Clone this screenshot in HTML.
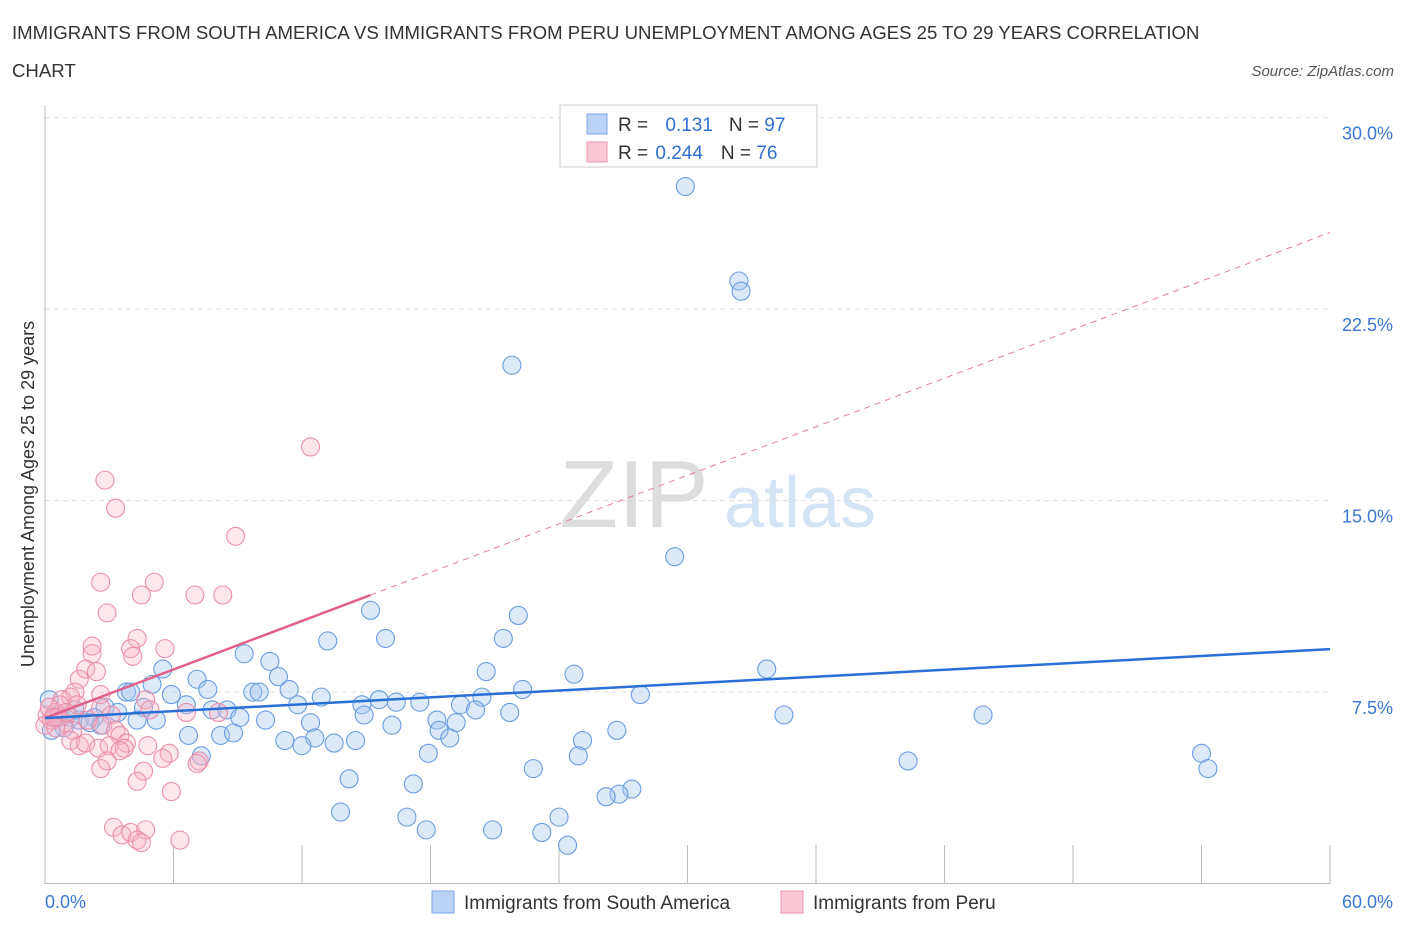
<!DOCTYPE html>
<html><head><meta charset="utf-8"><style>
body{margin:0;background:#fff;font-family:"Liberation Sans",sans-serif;}
svg text{font-family:"Liberation Sans",sans-serif;}
</style></head><body>
<svg id="c" width="1406" height="930">
<text x="12" y="39" font-size="18.6" fill="#333">IMMIGRANTS FROM SOUTH AMERICA VS IMMIGRANTS FROM PERU UNEMPLOYMENT AMONG AGES 25 TO 29 YEARS CORRELATION</text>
<text x="12" y="77" font-size="18.6" fill="#333">CHART</text>
<text x="1394" y="76" font-size="15" fill="#555" font-style="italic" text-anchor="end">Source: ZipAtlas.com</text>
<text x="634" y="527" font-size="96" fill="#ddd" font-family="Liberation Serif" text-anchor="middle">ZIP</text>
<text x="800" y="527" font-size="72" fill="#d4e3f5" text-anchor="middle">atlas</text>
<text transform="translate(34,494) rotate(-90)" font-size="18" fill="#333" text-anchor="middle">Unemployment Among Ages 25 to 29 years</text>
<g id="grid"></g>
<g id="pts"></g>
<g id="trend"></g>
<rect x="560" y="105" width="257" height="62" fill="#fff" stroke="#ccc"/>
<rect x="587" y="114" width="20" height="20" fill="#b9d3f5" stroke="#7aa6e3"/>
<rect x="587" y="142" width="20" height="20" fill="#fbc9d6" stroke="#ec93ad"/>
<text x="618" y="131" font-size="19" fill="#333">R = <tspan fill="#2f6fd1" dx="12">0.131</tspan><tspan fill="#333" dx="16">N = </tspan><tspan fill="#2f6fd1">97</tspan></text>
<text x="618" y="159" font-size="19" fill="#333">R = <tspan fill="#2f6fd1" dx="2">0.244</tspan><tspan fill="#333" dx="18">N = </tspan><tspan fill="#2f6fd1">76</tspan></text>
<rect x="432" y="891" width="22" height="22" fill="#b9d3f5" stroke="#7aa6e3"/>
<text x="464" y="909" font-size="19" fill="#333">Immigrants from South America</text>
<rect x="781" y="891" width="22" height="22" fill="#fbc9d6" stroke="#ec93ad"/>
<text x="813" y="909" font-size="19" fill="#333">Immigrants from Peru</text>
</svg>
<script>
const yTicks=[30,22.5,15,7.5];
const yTickLabels=["30.0%","22.5%","15.0%","7.5%"];
const xTickLabels=["0.0%","60.0%"];
const blueX=[29.9,32.4,32.5,21.8,29.4,15.2,22.1,15.9,21.4,13.2,9.3,10.5,5.5,33.7,20.6,24.7,7.1,10.9,5.0,7.6,11.4,22.3,3.8,4.0,27.8,5.9,9.7,10.0,20.4,12.9,15.6,16.4,17.5,14.8,11.8,6.6,19.4,20.1,21.7,7.8,8.5,4.6,2.8,14.9,43.8,34.5,9.1,10.3,5.2,4.3,12.4,18.3,16.2,19.2,2.3,3.4,26.7,18.4,18.9,6.7,8.2,8.8,12.6,11.2,14.5,13.5,12.0,25.1,17.9,24.9,7.3,54.0,40.3,22.8,54.3,14.2,17.2,27.4,26.8,26.2,13.8,16.9,24.0,17.8,20.9,23.2,24.4,0.2,0.5,0.7,1.2,1.6,2.1,2.6,0.9,1.4,0.3];
const blueY=[27.3,23.6,23.2,20.3,12.8,10.7,10.5,9.6,9.6,9.5,9.0,8.7,8.4,8.4,8.3,8.2,8.0,8.1,7.8,7.6,7.6,7.6,7.5,7.5,7.4,7.4,7.5,7.5,7.3,7.3,7.2,7.1,7.1,7.0,7.0,7.0,7.0,6.8,6.7,6.8,6.8,6.9,6.9,6.6,6.6,6.6,6.5,6.4,6.4,6.4,6.3,6.4,6.2,6.3,6.5,6.7,6.0,6.0,5.7,5.8,5.8,5.9,5.7,5.6,5.6,5.5,5.4,5.6,5.1,5.0,5.0,5.1,4.8,4.5,4.5,4.1,3.9,3.7,3.5,3.4,2.8,2.6,2.6,2.1,2.1,2.0,1.5,7.2,6.5,6.6,6.5,6.4,6.3,6.2,6.1,6.8,6.0];
const pinkX=[12.4,2.8,3.3,8.9,2.6,5.1,4.5,7.0,8.3,2.9,4.3,2.2,4.0,5.6,2.2,4.1,1.9,2.4,1.6,1.4,2.6,1.2,0.8,4.7,1.5,2.6,6.6,4.9,3.1,2.0,0.9,2.7,1.3,3.3,3.5,1.2,1.6,1.9,2.5,3.0,3.8,4.8,5.8,3.7,3.5,5.5,2.9,2.6,7.2,7.1,4.6,4.3,5.9,3.2,3.6,4.0,4.7,4.3,4.5,6.3,8.1,0.1,0.3,0.5,0,0.7,0.2,0.5,0.6,1.0,0.4];
const pinkY=[17.1,15.8,14.7,13.6,11.8,11.8,11.3,11.3,11.3,10.6,9.6,9.3,9.2,9.2,9.0,8.9,8.4,8.3,8.0,7.5,7.4,7.3,7.2,7.2,7.0,6.9,6.7,6.8,6.6,6.4,6.3,6.2,6.0,6.0,5.8,5.6,5.4,5.5,5.3,5.4,5.5,5.4,5.1,5.3,5.2,4.9,4.8,4.5,4.8,4.7,4.4,4.0,3.6,2.2,1.9,2.0,2.1,1.7,1.6,1.7,6.7,6.6,6.4,6.7,6.2,7.0,6.9,6.1,6.5,6.7,6.5];
const blueTrend=[6.48,9.18];
const pinkTrend=[6.48,25.5];
const pinkSolidEnd=15.2;
const NS="http://www.w3.org/2000/svg";
const X=v=>45+v*1285/60;
const Y=v=>883.5-v*25.53;
function mk(t,a,p){const e=document.createElementNS(NS,t);for(const k in a)e.setAttribute(k,a[k]);p.appendChild(e);return e;}
const grid=document.getElementById('grid');
yTicks.forEach((v,i)=>{
 const l=mk('line',{x1:45,x2:1330,y1:Y(v),y2:Y(v),stroke:'#ddd','stroke-dasharray':'5,4'},grid);
 
 
 const t=mk('text',{x:1393,y:Y(v)+22,'font-size':18,fill:'#3a78d4','text-anchor':'end'},grid);
 t.textContent=yTickLabels[i];
 
 
});
const ya=mk('line',{x1:45,x2:45,y1:105,y2:884,stroke:'#bbb'},grid);


const xa=mk('line',{x1:45,x2:1330,y1:883.5,y2:883.5,stroke:'#bbb'},grid);


for(let i=0;i<=10;i++){
 const tk=mk('line',{x1:X(i*6),x2:X(i*6),y1:845,y2:884,stroke:'#bbb'},grid);
 
 
}
[[0,'start',45],[60,'end',1393]].forEach((d,i)=>{
 const t=mk('text',{x:d[2],y:908,'font-size':18,fill:'#3a78d4','text-anchor':d[1]},grid);
 t.textContent=xTickLabels[i];
 
 
});
const pts=document.getElementById('pts');
blueX.forEach((v,i)=>{
 const c=mk('circle',{cx:X(v),cy:Y(blueY[i]),r:9,fill:'rgba(160,196,240,0.38)',stroke:'#6a9de0','stroke-width':1.1},pts);
 
 
});
pinkX.forEach((v,i)=>{
 const c=mk('circle',{cx:X(v),cy:Y(pinkY[i]),r:9,fill:'rgba(248,180,198,0.33)',stroke:'#eb8fab','stroke-width':1.1},pts);
 
 
});
const tr=document.getElementById('trend');
const pv=x=>pinkTrend[0]+(pinkTrend[1]-pinkTrend[0])*x/60;
const pd=mk('line',{x1:X(pinkSolidEnd),y1:Y(pv(pinkSolidEnd)),x2:X(60),y2:Y(pinkTrend[1]),stroke:'#e67a9c','stroke-width':1,'stroke-dasharray':'6,5'},tr);


const ps=mk('line',{x1:X(0),y1:Y(pinkTrend[0]),x2:X(pinkSolidEnd),y2:Y(pv(pinkSolidEnd)),stroke:'#e0608a','stroke-width':2.5},tr);


const bl=mk('line',{x1:X(0),y1:Y(blueTrend[0]),x2:X(60),y2:Y(blueTrend[1]),stroke:'#2a6fd6','stroke-width':2.5},tr);


</script>
</body></html>
